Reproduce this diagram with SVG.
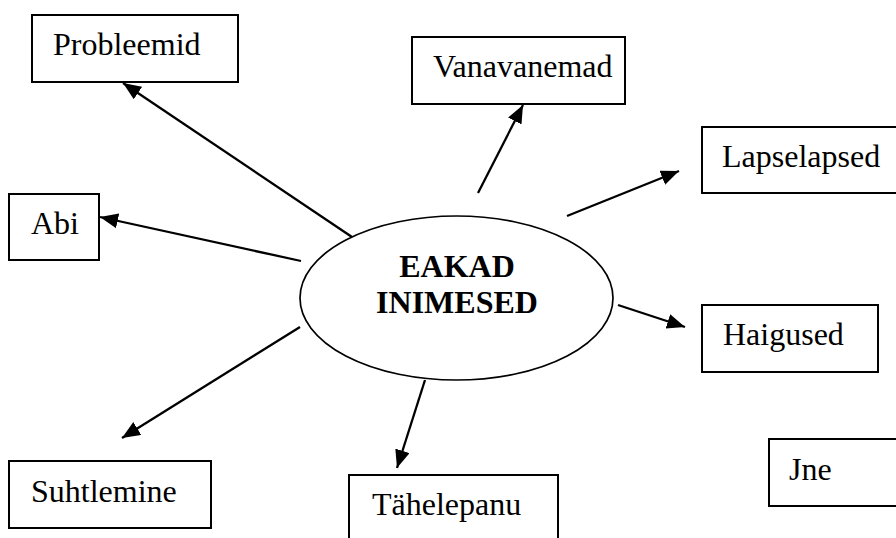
<svg xmlns="http://www.w3.org/2000/svg" width="896" height="538" viewBox="0 0 896 538">
<defs>
<style>
.box{fill:#fff;stroke:#000;stroke-width:2}
.lbl{font-family:"Liberation Serif","Times New Roman",serif;font-size:32px;fill:#000}
.ctr{font-family:"Liberation Serif","Times New Roman",serif;font-size:32px;font-weight:bold;fill:#000;text-anchor:middle}
.edge{stroke:#000;stroke-width:2.3;fill:none;marker-end:url(#ah)}
</style>
<marker id="ah" markerUnits="userSpaceOnUse" markerWidth="20" markerHeight="16" refX="18" refY="7.5" orient="auto">
<path d="M0,0 L18,7.5 L0,15 Z" fill="#000"/>
</marker>
</defs>
<rect width="896" height="538" fill="#fff"/>
<g id="center">
<ellipse cx="456.5" cy="298" rx="156.5" ry="82" fill="#fff" stroke="#000" stroke-width="1.7"/>
<text class="ctr" x="457" y="277">EAKAD</text>
<text class="ctr" x="457" y="313">INIMESED</text>
</g>
<g id="probleemid"><rect class="box" x="32" y="15" width="206" height="67"/><text class="lbl" x="53" y="55">Probleemid</text></g>
<g id="vanavanemad"><rect class="box" x="412" y="37" width="213" height="67"/><text class="lbl" x="433" y="77">Vanavanemad</text></g>
<g id="lapselapsed"><rect class="box" x="702" y="127" width="210" height="66"/><text class="lbl" x="722" y="167">Lapselapsed</text></g>
<g id="abi"><rect class="box" x="9" y="194" width="90" height="66"/><text class="lbl" x="31" y="234">Abi</text></g>
<g id="haigused"><rect class="box" x="702" y="305" width="176" height="67"/><text class="lbl" x="723" y="345">Haigused</text></g>
<g id="suhtlemine"><rect class="box" x="9" y="461" width="202" height="67"/><text class="lbl" x="31" y="502">Suhtlemine</text></g>
<g id="tahelepanu"><rect class="box" x="349" y="475" width="209" height="80"/><text class="lbl" x="372" y="515">Tähelepanu</text></g>
<g id="jne"><rect class="box" x="769" y="439" width="140" height="67"/><text class="lbl" x="789" y="480">Jne</text></g>
<g id="connectors">
<line class="edge" x1="352" y1="237" x2="123" y2="83"/>
<line class="edge" x1="478" y1="193" x2="523" y2="105"/>
<line class="edge" x1="567" y1="216" x2="679" y2="171"/>
<line class="edge" x1="301" y1="261" x2="100" y2="217"/>
<line class="edge" x1="618" y1="305" x2="685" y2="327"/>
<line class="edge" x1="300" y1="327" x2="122" y2="438"/>
<line class="edge" x1="425" y1="380" x2="397" y2="468"/>
</g>
</svg>
